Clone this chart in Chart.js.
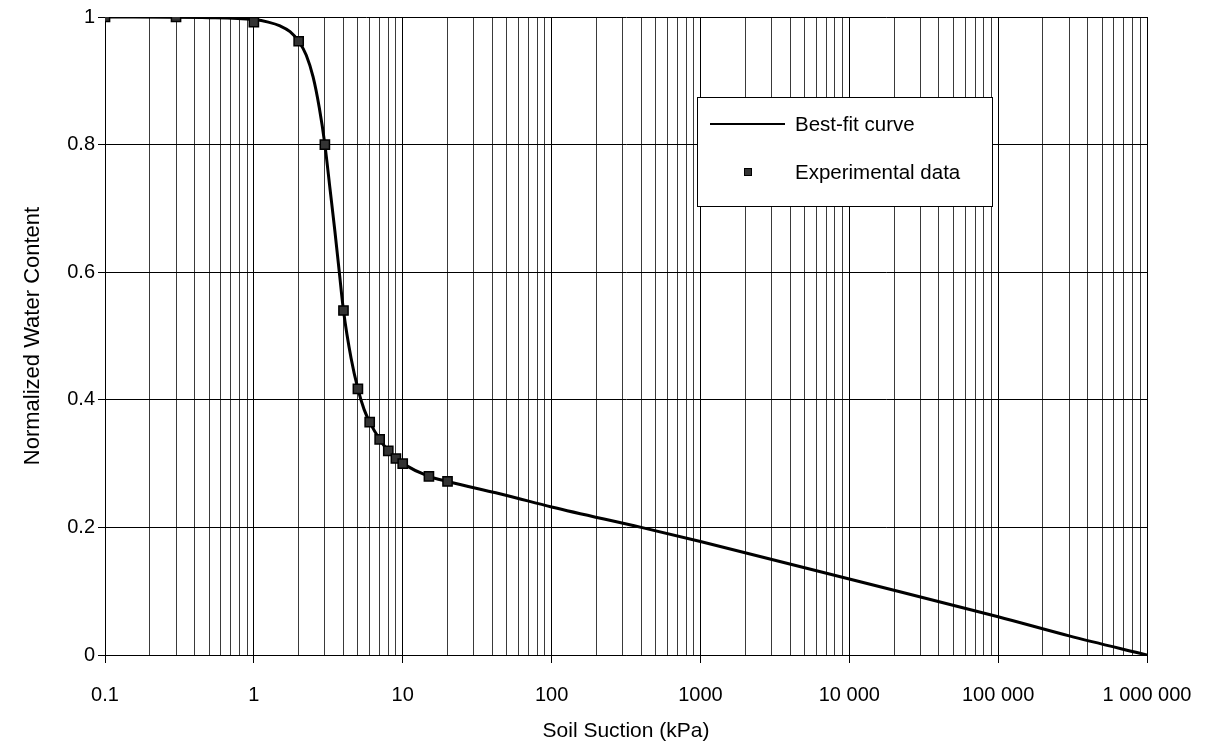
<!DOCTYPE html>
<html>
<head>
<meta charset="utf-8">
<title>Normalized Water Content vs Soil Suction</title>
<script src="https://cdn.jsdelivr.net/npm/chart.js@4/dist/chart.umd.min.js"></script>
<style>
  html, body { margin: 0; padding: 0; background: #fff; }
  #wrap { width: 1207px; height: 746px; }
</style>
</head>
<body>
<div id="wrap"><canvas id="chart"></canvas></div>
<script>
// experimental points
const expSuction = [0.1, 0.3, 1, 2, 3, 4, 5, 6, 7, 8, 9, 10, 15, 20];
const expWater = [1.0, 1.0, 0.992, 0.962, 0.80, 0.54, 0.417, 0.365, 0.338, 0.32, 0.308, 0.30, 0.28, 0.272];

// best-fit curve
const fitSuction = [0.1, 0.5, 1, 1.25, 1.5, 1.75, 2, 2.25, 2.5, 2.75, 3, 3.25, 3.5, 3.75, 4, 4.5, 5, 5.5, 6, 7, 8, 9, 10, 15, 20, 50, 100, 400, 1000, 10000, 100000, 300000, 1000000];
const fitWater = [1.0, 0.999, 0.996, 0.992, 0.986, 0.977, 0.962, 0.94, 0.906, 0.858, 0.80, 0.73, 0.665, 0.60, 0.54, 0.465, 0.417, 0.385, 0.365, 0.338, 0.32, 0.308, 0.30, 0.28, 0.272, 0.25, 0.232, 0.2, 0.178, 0.119, 0.06, 0.03, 0.0];

// axis ticks
const xDecades = [0.1, 1, 10, 100, 1000, 10000, 100000, 1000000];
const xDecadeLabels = ['0.1', '1', '10', '100', '1000', '10 000', '100 000', '1 000 000'];
const yTicks = [0, 0.2, 0.4, 0.6, 0.8, 1];
const yTickLabels = ['0', '0.2', '0.4', '0.6', '0.8', '1'];

const FONT = "'Liberation Sans', Arial, Helvetica, sans-serif";

function isDecade(v) {
    return xDecades.some(d => Math.abs(d - v) / d < 1e-9);
}

// legend box drawn inside the plot
const boxLegend = {
    id: 'boxLegend',
    afterDraw(chart) {
        const ctx = chart.ctx;
        const fit = chart.data.datasets[0];
        const exp = chart.data.datasets[1];
        ctx.save();
        ctx.fillStyle = '#fff';
        ctx.fillRect(697, 97, 295, 109);
        ctx.strokeStyle = '#000';
        ctx.lineWidth = 1;
        ctx.strokeRect(697.5, 97.5, 295, 109);

        ctx.strokeStyle = fit.borderColor;
        ctx.lineWidth = 2;
        ctx.beginPath();
        ctx.moveTo(710, 124);
        ctx.lineTo(785, 124);
        ctx.stroke();

        ctx.fillStyle = exp.pointBackgroundColor;
        ctx.strokeStyle = exp.pointBorderColor;
        ctx.lineWidth = 1;
        ctx.fillRect(744, 168, 8, 8);
        ctx.strokeRect(744.5, 168.5, 7, 7);

        ctx.fillStyle = '#000';
        ctx.font = '20.5px ' + FONT;
        ctx.textBaseline = 'middle';
        ctx.textAlign = 'left';
        ctx.fillText(fit.label, 795, 125);
        ctx.fillText(exp.label, 795, 173);
        ctx.restore();
    }
};

new Chart(document.getElementById('chart'), {
    type: 'scatter',
    data: {
        datasets: [
            {
                label: 'Best-fit curve',
                data: fitSuction.map((x, i) => ({ x: x, y: fitWater[i] })),
                showLine: true,
                borderColor: '#000',
                borderWidth: 3,
                pointRadius: 0,
                cubicInterpolationMode: 'monotone',
                order: 2
            },
            {
                label: 'Experimental data',
                data: expSuction.map((x, i) => ({ x: x, y: expWater[i] })),
                showLine: false,
                pointStyle: 'rect',
                pointRadius: 6.5,
                pointBackgroundColor: '#333',
                pointBorderColor: '#000',
                pointBorderWidth: 1.5,
                order: 1
            }
        ]
    },
    options: {
        responsive: true,
        maintainAspectRatio: false,
        animation: false,
        layout: { padding: { left: 0, right: 60, top: 17, bottom: 0 } },
        plugins: {
            legend: { display: false },
            tooltip: { enabled: false }
        },
        scales: {
            x: {
                type: 'logarithmic',
                min: 0.1,
                max: 1000000,
                afterBuildTicks: scale => {
                    const ticks = [];
                    xDecades.forEach((d, i) => {
                        if (i === xDecades.length - 1) {
                            ticks.push({ value: d });
                            return;
                        }
                        for (let m = 1; m <= 9; m++) ticks.push({ value: d * m });
                    });
                    scale.ticks = ticks;
                },
                afterFit: scale => {
                    scale.height = 91;
                    scale.paddingLeft = 0;
                    scale.paddingRight = 0;
                },
                border: { display: true, color: '#000', width: 1 },
                grid: {
                    color: ctx => isDecade(ctx.tick.value) ? '#000' : '#3a3a3a',
                    lineWidth: 1,
                    tickLength: 8,
                    tickColor: ctx => isDecade(ctx.tick.value) ? '#000' : 'rgba(0,0,0,0)'
                },
                ticks: {
                    autoSkip: false,
                    maxRotation: 0,
                    minRotation: 0,
                    padding: 20,
                    color: '#000',
                    font: { family: FONT, size: 20 },
                    callback: value => {
                        const i = xDecades.findIndex(d => Math.abs(d - value) / d < 1e-9);
                        return i >= 0 ? xDecadeLabels[i] : '';
                    }
                },
                title: {
                    display: true,
                    text: 'Soil Suction (kPa)',
                    color: '#000',
                    font: { family: FONT, size: 21 },
                    padding: { top: 0, bottom: 2 }
                }
            },
            y: {
                min: 0,
                max: 1,
                afterBuildTicks: scale => {
                    scale.ticks = yTicks.map(v => ({ value: v }));
                },
                afterFit: scale => { scale.width = 105; },
                border: { display: true, color: '#000', width: 1 },
                grid: {
                    color: '#000',
                    lineWidth: 1,
                    tickLength: 7,
                    tickColor: '#000'
                },
                ticks: {
                    padding: 3,
                    color: '#000',
                    font: { family: FONT, size: 20 },
                    callback: value => {
                        const i = yTicks.findIndex(t => Math.abs(t - value) < 1e-9);
                        return i >= 0 ? yTickLabels[i] : '';
                    }
                },
                title: {
                    display: true,
                    text: 'Normalized Water Content',
                    color: '#000',
                    font: { family: FONT, size: 22 },
                    padding: { top: 20, bottom: 0 }
                }
            }
        }
    },
    plugins: [boxLegend]
});
</script>
</body>
</html>
